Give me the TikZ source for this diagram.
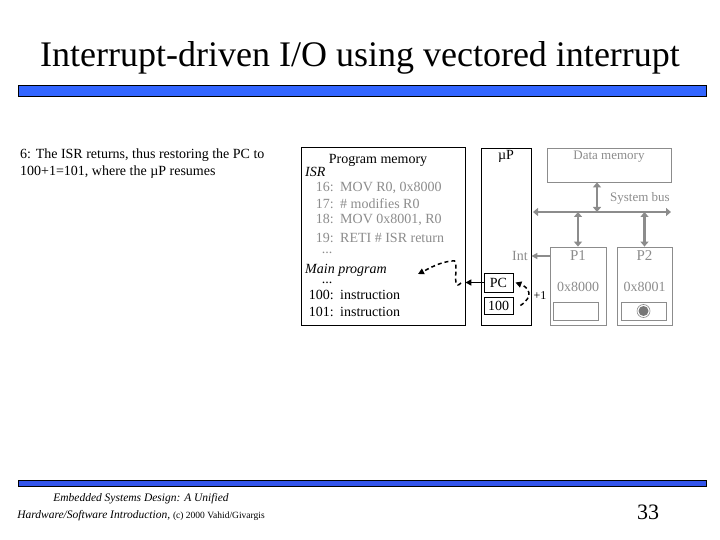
\documentclass[tikz,border=0pt]{standalone}
\usepackage{fontspec}
\setmainfont{Liberation Serif}
\usepackage{xcolor}
\usepackage{tikz}
\usetikzlibrary{
	arrows.meta,
	positioning,
	calc
}
\definecolor{barblue}{RGB}{51,102,255}
\definecolor{footblue}{RGB}{51,85,235}
\definecolor{pale}{RGB}{140,140,140}

\begin{document}
\begin{tikzpicture}[
		x=1pt,
		y=-1pt,
		>=Stealth,
		box/.style={
			draw,
			line width=0.8pt,
			inner sep=0pt
		},
		greybox/.style={
			draw=pale,
			line width=0.8pt,
			inner sep=0pt
		},
		code/.style={
			inner sep=0pt,
			font=\fontsize{14}{16}\selectfont
		},
		dots/.style={
			code,
			anchor=base,
			text height=1.5pt,
			text depth=0pt
		},
		busarrow/.style={
			pale,
			line width=2.5pt,
			{Triangle[length=5pt,width=8pt]}-{Triangle[length=5pt,width=8pt]}
		}
		]
		\useasboundingbox (0,0) rectangle (720,540);
		
		% Title
		\node[font=\fontsize{36}{40}\selectfont] (title) at (360,58) {Interrupt-driven I/O using vectored interrupt};
		\draw[fill=barblue, line width=0.8pt] (18,85) rectangle (706,96);
		
		% Step text
		\node[anchor=north west, align=left, inner sep=0pt, font=\fontsize{14}{17}\selectfont] (step) at (20,149)
		{6: The ISR returns, thus restoring the PC to\\100+1=101, where the \textmu P resumes};
		
		% Program memory
		\node[box, minimum width=164, minimum height=178] (pm) at (383,236) {};
		\node[code] (pmlabel) at (378,160) {Program memory};
		\node[code, anchor=base west] (isr) at (305,177) {\itshape ISR};
		\foreach \n/\ins/\y in {16/{MOV R0, 0x8000}/192, 17/{\# modifies R0}/208, 18/{MOV 0x8001, R0}/224, 19/{RETI \# ISR return}/243}
		{
			\node[code, pale, anchor=base east] at (334,\y) {\n:};
			\node[code, pale, anchor=base west] at (340,\y) {\ins};
		}
		\node[dots, pale] (dots1) at (327,254) {...};
		\node[code, anchor=base west] (main) at (305,273) {\itshape Main program};
		\node[dots] (dots2) at (327,283) {...};
		\node[code, anchor=base east] at (334,299) {100:};
		\node[code, anchor=base west] (i100) at (340,299) {instruction};
		\node[code, anchor=base east] at (334,316) {101:};
		\node[code, anchor=base west] (i101) at (340,316) {instruction};
		
		% Microprocessor
		\node[box, minimum width=50, minimum height=177] (up) at (506,236.5) {};
		\node[code] (uplabel) at (506,156) {\textmu P};
		\node[box, minimum width=29, minimum height=19, font=\fontsize{14}{16}\selectfont] (pc) at (498.5,282.5) {PC};
		\node[box, minimum width=29, minimum height=17, font=\fontsize{14}{16}\selectfont] (pcval) at (498.5,305.5) {100};
		\node[code, pale] (int) at (520,256) {Int};
		
		% Data memory and bus
		\node[greybox, minimum width=124, minimum height=34] (dm) at (609,165) {};
		\node[code, pale, font=\fontsize{13}{15}\selectfont] (dmlabel) at (609,157) {Data memory};
		\coordinate (busw) at (533,212);
		\coordinate (buse) at (671,212);
		\draw[busarrow] (busw) -- (buse);
		\node[code, pale, font=\fontsize{13}{15}\selectfont] (buslabel) at (640,198) {System bus};
		\draw[busarrow] ([xshift=-12pt]dm.south) -- ([xshift=-12pt]dm.south |- busw);
		
		% Peripherals
		\node[greybox, minimum width=56, minimum height=78] (p1) at (578,286) {};
		\node[code, pale, font=\fontsize{15}{17}\selectfont] at (578,256) {P1};
		\node[code, pale] at (578,287) {0x8000};
		\node[greybox, minimum width=45, minimum height=18] (p1reg) at (575.5,311) {};
		\node[greybox, minimum width=55, minimum height=78] (p2) at (644.5,286) {};
		\node[code, pale, font=\fontsize{15}{17}\selectfont] at (644.5,256) {P2};
		\node[code, pale] at (644.5,287) {0x8001};
		\node[greybox, minimum width=45, minimum height=18] (p2reg) at (643.5,311) {};
		\draw[pale, line width=0.6pt] (643.5,311) circle (6.5);
		\fill[pale!85!black] (643.5,311) circle (5);
		\draw[busarrow] (p1.north) -- (p1.north |- busw);
		\draw[busarrow] (p2.north) -- (p2.north |- busw);
		
		% Connections
		\draw[pale, line width=1.5pt, -{Triangle[length=6pt,width=6pt]}] (p1.west |- int) -- (up.east |- int);
		\draw[line width=1.8pt, -{Triangle[length=6pt,width=6pt]}] (pc.west) -- (pm.east |- pc.west);
		\coordinate (ret) at (461,283);
		\coordinate (target) at (418,274);
		\draw[dashed, line width=1.5pt, dash pattern=on 4pt off 3pt, -{Triangle[length=6pt,width=6pt]}]
		(ret) .. controls (450,294) and (461,256) .. (452,261)
		.. controls (440,262) and (430,268) .. (target);
		\draw[dashed, line width=1.5pt, dash pattern=on 4pt off 3pt, -{Triangle[length=6pt,width=6pt]}]
		([xshift=7pt]pcval.east) .. controls (535,296) and (528,287) .. ([xshift=2pt]pc.east);
		\node[font=\fontsize{12}{14}\selectfont, inner sep=0pt] (inc) at (540,296) {+1};
		
		% Footer
		\draw[fill=footblue, line width=0.8pt] (18,480) rectangle (706,486.5);
		\node[align=center, inner sep=0pt, font=\fontsize{11.5}{17}\selectfont] (foot) at (141,507)
		{\itshape Embedded Systems Design: A Unified\\{\itshape Hardware/Software Introduction,} {\fontsize{9.5}{12}\selectfont (c) 2000 Vahid/Givargis}};
		\node[font=\fontsize{22}{24}\selectfont] (page) at (648,512) {33};
		
	\end{tikzpicture}
\end{document}
